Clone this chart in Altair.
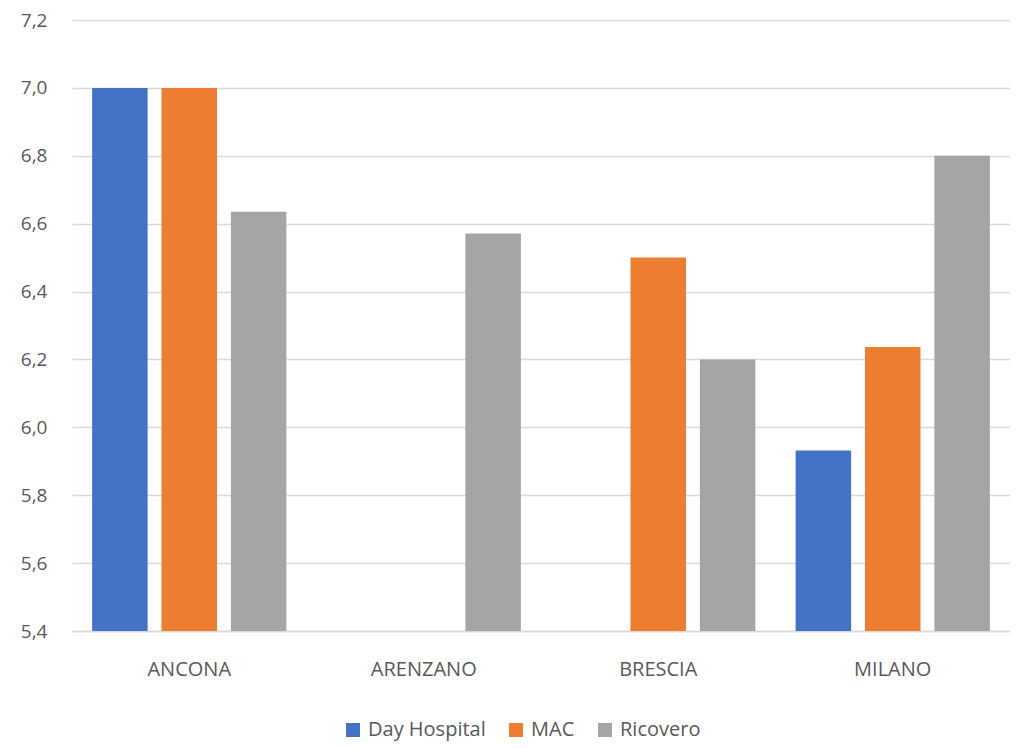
import altair as alt
import pandas as pd

categories = ["ANCONA", "ARENZANO", "BRESCIA", "MILANO"]
series = ["Day Hospital", "MAC", "Ricovero"]
day_hospital = [7.0, None, None, 5.932]
mac = [7.0, None, 6.5, 6.237]
ricovero = [6.635, 6.571, 6.2, 6.8]
colors = ["#4472C4", "#ED7D31", "#A5A5A5"]
baseline = 5.4

rows = []
for s, vals in zip(series, [day_hospital, mac, ricovero]):
    for c, v in zip(categories, vals):
        if v is not None:
            rows.append({"cat": c, "serie": s, "val": v, "base": baseline})
df = pd.DataFrame(rows)

font = "Open Sans"

chart = alt.Chart(df).mark_bar().encode(
    x=alt.X("cat:N", sort=categories, title=None,
            scale=alt.Scale(paddingInner=0, paddingOuter=0),
            axis=alt.Axis(labelAngle=0, ticks=False, labelPadding=28, labelFontSize=20,
                          labelColor="#595959", labelFont=font, domainColor="#d9d9d9",
                          domainWidth=1.5, grid=False)),
    xOffset=alt.XOffset("serie:N", sort=series,
                        scale=alt.Scale(paddingInner=0.2, paddingOuter=0.29)),
    y=alt.Y("val:Q", title=None,
            scale=alt.Scale(domain=[5.4, 7.2], zero=False, nice=False),
            axis=alt.Axis(values=[5.4, 5.6, 5.8, 6.0, 6.2, 6.4, 6.6, 6.8, 7.0, 7.2],
                          labelExpr="replace(format(datum.value, '.1f'), '.', ',')",
                          domain=False, ticks=False, labelPadding=25, labelFontSize=19,
                          labelColor="#595959", labelFont=font,
                          gridColor="#d9d9d9", gridWidth=1.5)),
    y2=alt.Y2("base:Q"),
    color=alt.Color("serie:N", sort=series,
                    scale=alt.Scale(domain=series, range=colors),
                    legend=alt.Legend(title=None, orient="none", direction="horizontal",
                                      legendX=271, legendY=700, symbolType="square",
                                      symbolSize=196, symbolStrokeWidth=0,
                                      labelFontSize=20, labelColor="#595959",
                                      labelFont=font, columnPadding=20, labelOffset=5,
                                      symbolOffset=0)),
).properties(
    width=938, height=611,
    autosize=alt.AutoSizeParams(type="none"),
    padding={"left": 64, "top": 12, "right": 0, "bottom": 113},
).configure_view(stroke=None)

chart.save("out.html", embed_options={"renderer": "svg", "actions": False})
